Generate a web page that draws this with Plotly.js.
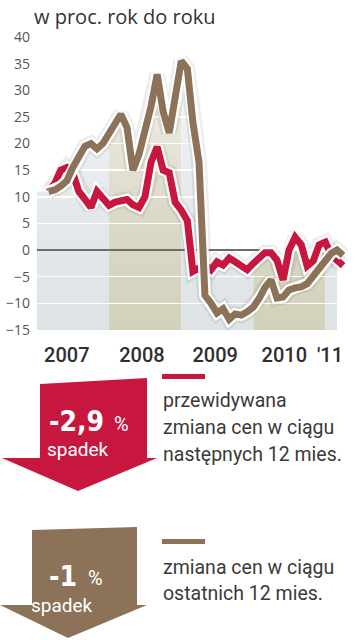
<!DOCTYPE html>
<html>
<head>
<meta charset="utf-8">
<script src="https://cdn.plot.ly/plotly-3.0.1.min.js"></script>
<style>html,body{margin:0;padding:0;background:#fff;}#chart{width:358px;height:640px;}</style>
</head>
<body>
<div id="chart"></div>
<script>
// ---- data ----
var months = ['2007-03-01','2007-04-01','2007-05-01','2007-06-01','2007-07-01','2007-08-01','2007-09-01','2007-10-01','2007-11-01','2007-12-01',
  '2008-01-01','2008-02-01','2008-03-01','2008-04-01','2008-05-01','2008-06-01','2008-07-01','2008-08-01','2008-09-01','2008-10-01','2008-11-01','2008-12-01',
  '2009-01-01','2009-02-01','2009-03-01','2009-04-01','2009-05-01','2009-06-01','2009-07-01','2009-08-01','2009-09-01','2009-10-01','2009-11-01','2009-12-01',
  '2010-01-01','2010-02-01','2010-03-01','2010-04-01','2010-05-01','2010-06-01','2010-07-01','2010-08-01','2010-09-01','2010-10-01','2010-11-01','2010-12-01',
  '2011-01-01','2011-02-01','2011-03-01','2011-04-01'];
// przewidywana zmiana cen w ciągu następnych 12 mies. (red)
var expected = [11, 12.5, 15, 15.5, 14.5, 11, 9.5, 8, 11, 9.5,
  8.4, 9, 9.2, 9.5, 8.5, 8, 10, 16.5, 19.4, 15, 14.5, 9,
  7.5, 5.5, -4, -3.5, -2.8, -3.7, -2.2, -2.8, -1.5, -2.2, -2.8, -3.7,
  -2.5, -1.2, -0.5, -0.5, -1.9, -5.6, 0, 2.4, 1, -3, -2, 1,
  1.5, -1, -2, -2.9];
// zmiana cen w ciągu ostatnich 12 mies. (brown)
var past = [11, 11.3, 12, 13, 15.5, 17.5, 19.5, 20, 19, 20,
  22, 24, 25.5, 23, 15, 18, 22, 27, 33, 26, 22, 28,
  35.5, 34, 24, 16.5, -8.5, -10, -11.8, -11, -13, -12, -12.2, -11.6,
  -10.7, -9, -7, -5.6, -9, -8.8, -7.5, -7.1, -6.9, -6.3, -5, -3.5,
  -2, -0.6, 0, -1];
var yearLabels = ['2007', '2008', '2009', '2010', "'11"];
var yTicks = [-15, -10, -5, 0, 5, 10, 15, 20, 25, 30, 35, 40];

// ---- styles / layout constants ----
var RED = '#c8173f', BROWN = '#8c7258';
var ML = 37, MR = 9, MT = 37, MB = 310, FW = 358, FH = 640;
var PW = FW - ML - MR, PH = FH - MT - MB;
function px(x) { return (x - ML) / PW; }
function py(y) { return (FH - MB - y) / PH; }
var xStart = '2007-01-01', xEnd = '2011-05-01';
var yMin = -15, yMax = 40;

var env = months.map(function (m, i) { return Math.max(expected[i], past[i]); });

var bandDefs = [
  ['2007-01-01', '2008-01-01', '#dee3e6'],
  ['2008-01-01', '2009-01-01', '#d2d1ba'],
  ['2009-01-01', '2010-01-01', '#dee3e6'],
  ['2010-01-01', '2011-01-01', '#d2d1ba'],
  ['2011-01-01', '2011-03-01', '#dee3e6']
];
var shapes = bandDefs.map(function (b) {
  return {type: 'rect', xref: 'x', yref: 'y', x0: b[0], x1: b[1], y0: yMin, y1: yMax,
          fillcolor: b[2], line: {width: 0}, layer: 'below'};
});

function pathFrom(pts) {
  return 'M' + pts.map(function (p) { return px(p[0]).toFixed(4) + ',' + py(p[1]).toFixed(4); }).join(' L') + ' Z';
}
shapes.push({type: 'path', xref: 'paper', yref: 'paper', fillcolor: RED, line: {width: 0}, layer: 'above',
  path: pathFrom([[40, 384], [147, 378], [147, 458], [157, 458], [78, 491], [2, 458], [40, 458]])});
shapes.push({type: 'path', xref: 'paper', yref: 'paper', fillcolor: BROWN, line: {width: 0}, layer: 'above',
  path: pathFrom([[32, 530], [137, 527], [137, 605], [147, 605], [68, 638], [0, 605], [32, 605]])});
shapes.push({type: 'rect', xref: 'paper', yref: 'paper', x0: px(162), x1: px(205), y0: py(379), y1: py(374),
  fillcolor: RED, line: {width: 0}, layer: 'above'});
shapes.push({type: 'rect', xref: 'paper', yref: 'paper', x0: px(162), x1: px(205), y0: py(544), y1: py(539),
  fillcolor: BROWN, line: {width: 0}, layer: 'above'});

var traces = [];
// white mask above the curves
traces.push({x: [xStart].concat(months, [xEnd, xEnd, xStart]),
  y: [env[0]].concat(env, [env[env.length - 1], yMax, yMax]),
  mode: 'lines', fill: 'toself', fillcolor: '#ffffff', line: {width: 0}, hoverinfo: 'skip', showlegend: false});
// fading toward top
traces.push({x: [xStart].concat(months, [months[months.length - 1], xStart]),
  y: [env[0]].concat(env, [yMin, yMin]),
  mode: 'lines', fill: 'toself', line: {width: 0}, hoverinfo: 'skip', showlegend: false,
  fillgradient: {type: 'vertical', start: yMin, stop: yMax,
    colorscale: [[0, 'rgba(255,255,255,0)'], [0.4, 'rgba(255,255,255,0.2)'], [0.8, 'rgba(255,255,255,0.6)'], [1, 'rgba(255,255,255,0.85)']]}});
// zero line
traces.push({x: [xStart, '2010-02-15'], y: [0, 0], mode: 'lines', line: {color: '#3c3c3c', width: 1.5},
  hoverinfo: 'skip', showlegend: false});
function addLine(vals, color) {
  traces.push({x: months, y: vals, mode: 'lines', line: {color: 'rgba(0,0,0,0.07)', width: 16}, hoverinfo: 'skip', showlegend: false});
  traces.push({x: months, y: vals, mode: 'lines', line: {color: '#ffffff', width: 11.5}, hoverinfo: 'skip', showlegend: false});
  traces.push({x: months, y: vals, mode: 'lines', line: {color: color, width: 7}, showlegend: false});
}
addLine(expected, RED);
addLine(past, BROWN);

function ann(text, x, y, size, color, family, weight) {
  return {text: text, xref: 'paper', yref: 'paper', x: px(x), y: py(y), xanchor: 'left', yanchor: 'middle',
          showarrow: false, font: {size: size, color: color, family: family, weight: weight || 400}};
}
var TXT = 'Roboto, Noto Sans, sans-serif';
var BIG = 'DejaVu Sans Condensed, Roboto, sans-serif';
var annotations = [
  ann('-2,9', 47, 421, 28, '#ffffff', BIG, 700),
  ann('%', 112, 424, 20, '#ffffff', TXT),
  ann('spadek', 45, 449, 19, '#ffffff', TXT),
  ann('-1', 47, 576, 28, '#ffffff', BIG, 700),
  ann('%', 86, 578, 20, '#ffffff', TXT),
  ann('spadek', 29, 605, 19, '#ffffff', TXT),
  ann('przewidywana', 161, 400, 19.5, '#3a3a3a', TXT),
  ann('zmiana cen w ciągu', 161, 427, 19.5, '#3a3a3a', TXT),
  ann('następnych 12 mies.', 161, 454, 19.5, '#3a3a3a', TXT),
  ann('zmiana cen w ciągu', 161, 567, 19.5, '#3a3a3a', TXT),
  ann('ostatnich 12 mies.', 161, 593, 19.5, '#3a3a3a', TXT)
];

var layout = {
  width: FW, height: FH,
  margin: {l: ML, r: MR, t: MT, b: MB},
  paper_bgcolor: '#ffffff', plot_bgcolor: '#ffffff',
  title: {text: 'w proc. rok do roku', x: 34 / FW, xanchor: 'left', y: 1 - 17 / FH, yanchor: 'middle',
          font: {family: 'Open Sans, sans-serif', size: 20, color: '#333333'}},
  xaxis: {type: 'date', range: [xStart, xEnd], showgrid: false, zeroline: false, showline: false,
          tickmode: 'array', tickvals: ['2007-06-01', '2008-06-16', '2009-06-22', '2010-06-07', '2011-01-25'],
          ticktext: yearLabels, ticks: '', ticklabelstandoff: 11,
          tickfont: {family: 'Roboto, sans-serif', size: 20, color: '#2e2e2e', weight: 500}, fixedrange: true},
  yaxis: {range: [yMin, yMax], tickmode: 'array', tickvals: yTicks, showgrid: true, gridcolor: '#ffffff', gridwidth: 1.5,
          zeroline: false, showline: false, ticks: '', ticklabelstandoff: 6,
          tickfont: {family: 'Open Sans, sans-serif', size: 14, color: '#555555'}, fixedrange: true},
  shapes: shapes,
  annotations: annotations,
  showlegend: false
};
Plotly.newPlot('chart', traces, layout, {staticPlot: true, displayModeBar: false});
</script>
</body>
</html>
